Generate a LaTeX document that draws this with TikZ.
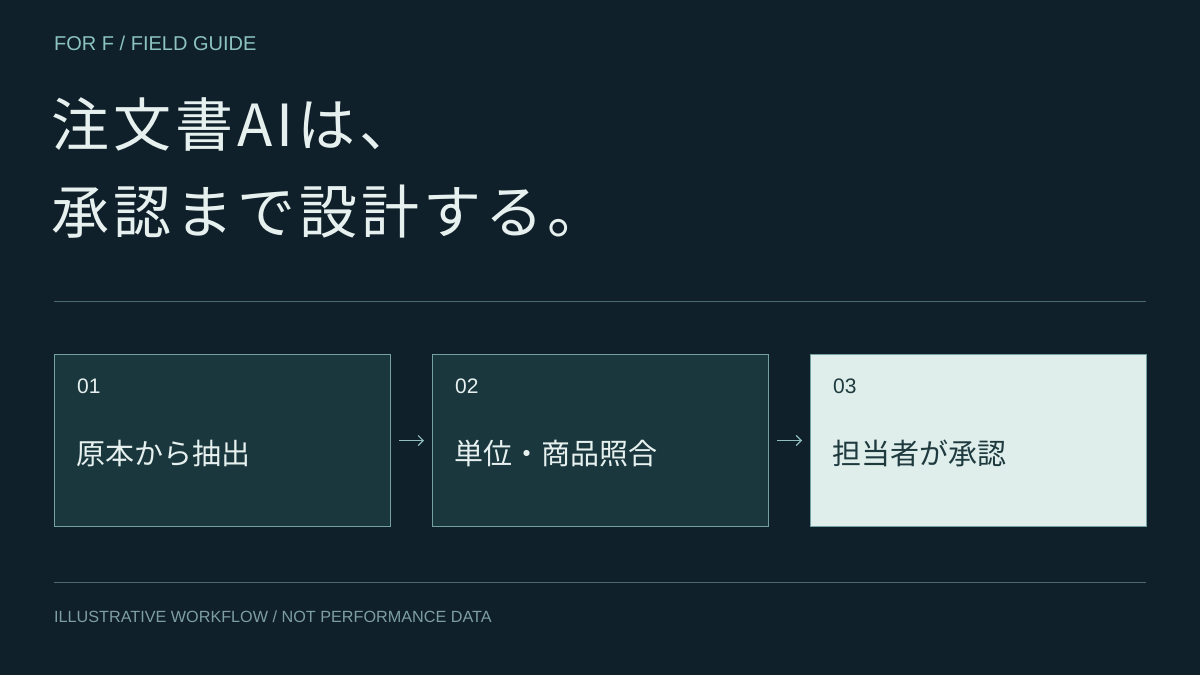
\documentclass[tikz,border=0pt]{standalone}
\usepackage{fontspec}
\setmainfont{Liberation Sans}
\newfontfamily\jpfont{Noto Sans CJK JP}
\newfontfamily\jptitle[LetterSpace=7]{Noto Sans CJK JP}
\usetikzlibrary{arrows.meta}
\definecolor{bgc}{HTML}{10202A}
\definecolor{darkbox}{HTML}{1A373E}
\definecolor{boxline}{HTML}{73A0A2}
\definecolor{lightbox}{HTML}{DFEEEA}
\definecolor{lighttext}{HTML}{E6F0EE}
\definecolor{darktext}{HTML}{1E3A3F}
\definecolor{kicker}{HTML}{8CC3BE}
\definecolor{footc}{HTML}{7D9EA2}
\definecolor{rulec}{HTML}{4A6970}
\definecolor{arrowc}{HTML}{8FBFBC}
\tikzset{
  txt/.style={inner sep=0pt, anchor=base west},
  stepbox/.style={draw=boxline, line width=1pt, fill=darkbox, minimum width=336pt, minimum height=172pt, anchor=north west, inner sep=0pt},
  stepboxlight/.style={stepbox, fill=lightbox},
  num/.style={txt, font=\fontsize{21}{25}\selectfont},
  lab/.style={txt, font=\jpfont\fontsize{29}{34}\selectfont},
  flow/.style={draw=arrowc, line width=1.2pt, -{Straight Barb[length=5pt,width=10pt]}},
  divider/.style={draw=rulec, line width=1pt}
}
\begin{document}
\begin{tikzpicture}[x=1pt,y=-1pt]
\fill[bgc] (0,0) rectangle (1200,675);
\useasboundingbox (0,0) rectangle (1200,675);
\node[txt, text=kicker, font=\fontsize{20}{24}\selectfont] (kick) at (54,50) {FOR F / FIELD GUIDE};
\node[txt, text=lighttext, font=\jptitle\fontsize{58}{70}\selectfont] (t1) at (51,146) {注文書AIは、};
\node[txt, text=lighttext, font=\jptitle\fontsize{58}{70}\selectfont] (t2) at (51,233) {承認まで設計する。};
\coordinate (r1a) at (54,301); \coordinate (r1b) at (1146,301);
\draw[divider] (r1a) -- (r1b);
\node[stepbox] (b1) at (54,354) {};
\node[stepbox] (b2) at (432,354) {};
\node[stepboxlight] (b3) at (810,354) {};
\node[num, text=lighttext] (n1) at (77,393) {01};
\node[num, text=lighttext] (n2) at (455,393) {02};
\node[num, text=darktext] (n3) at (833,393) {03};
\node[lab, text=lighttext] (l1) at (76,464) {原本から抽出};
\node[lab, text=lighttext] (l2) at (454,464) {単位・商品照合};
\node[lab, text=darktext] (l3) at (832,464) {担当者が承認};
\draw[flow] ([xshift=8pt]b1.east) -- ([xshift=-8pt]b2.west);
\draw[flow] ([xshift=8pt]b2.east) -- ([xshift=-8pt]b3.west);
\coordinate (r2a) at (54,582); \coordinate (r2b) at (1146,582);
\draw[divider] (r2a) -- (r2b);
\node[txt, text=footc, font=\fontsize{16.2}{19}\selectfont] (foot) at (54,622) {ILLUSTRATIVE WORKFLOW / NOT PERFORMANCE DATA};
\end{tikzpicture}
\end{document}
